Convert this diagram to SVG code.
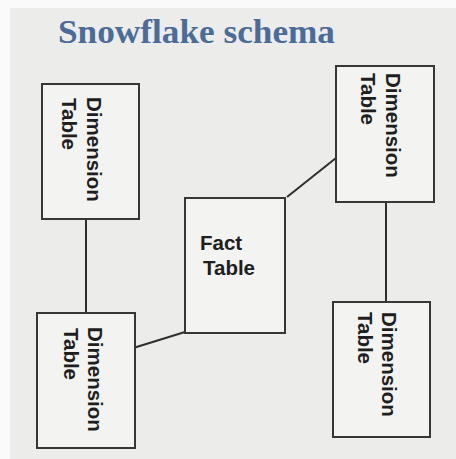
<svg xmlns="http://www.w3.org/2000/svg" width="456" height="459" viewBox="0 0 456 459">
  <style>
    .panel { fill: #ececeb; }
    .box { fill: #f3f3f1; stroke: #363636; stroke-width: 2; }
    .link { stroke: #2e2e2e; stroke-width: 2; fill: none; }
    .lbl { font-family: "Liberation Sans", Arial, sans-serif; font-weight: bold; font-size: 20.5px; fill: #1e1e1e; }
    .title { font-family: "Liberation Serif", "DejaVu Serif", serif; font-weight: bold; font-size: 34px; fill: #4b6b98; }
  </style>
  <rect x="0" y="0" width="456" height="459" fill="#fafafa"/>
  <rect class="panel" x="10" y="8" width="446" height="451"/>

  <text class="title" x="58" y="43" textLength="277" lengthAdjust="spacingAndGlyphs">Snowflake schema</text>

  <g id="connectors">
    <line class="link" x1="86" y1="219" x2="86" y2="313"/>
    <line class="link" x1="386" y1="202" x2="386" y2="302"/>
    <line class="link" x1="130" y1="349" x2="185" y2="332"/>
    <line class="link" x1="287" y1="197" x2="336" y2="158"/>
  </g>

  <g id="dim-top-left">
    <rect class="box" x="42" y="84" width="97" height="135"/>
    <text class="lbl" transform="translate(87 97) rotate(90)">Dimension</text>
    <text class="lbl" transform="translate(62 98) rotate(90)">Table</text>
  </g>

  <g id="dim-top-right">
    <rect class="box" x="336" y="66" width="98" height="136"/>
    <text class="lbl" transform="translate(386 73) rotate(90)">Dimension</text>
    <text class="lbl" transform="translate(361 73) rotate(90)">Table</text>
  </g>

  <g id="fact">
    <rect class="box" x="185" y="198" width="100" height="135"/>
    <text class="lbl" x="200" y="250">Fact</text>
    <text class="lbl" x="203" y="275">Table</text>
  </g>

  <g id="dim-bottom-left">
    <rect class="box" x="37" y="313" width="98" height="135"/>
    <text class="lbl" transform="translate(88 327) rotate(90)">Dimension</text>
    <text class="lbl" transform="translate(64 328) rotate(90)">Table</text>
  </g>

  <g id="dim-bottom-right">
    <rect class="box" x="333" y="302" width="97" height="135"/>
    <text class="lbl" transform="translate(382 312) rotate(90)">Dimension</text>
    <text class="lbl" transform="translate(358 312) rotate(90)">Table</text>
  </g>
</svg>
